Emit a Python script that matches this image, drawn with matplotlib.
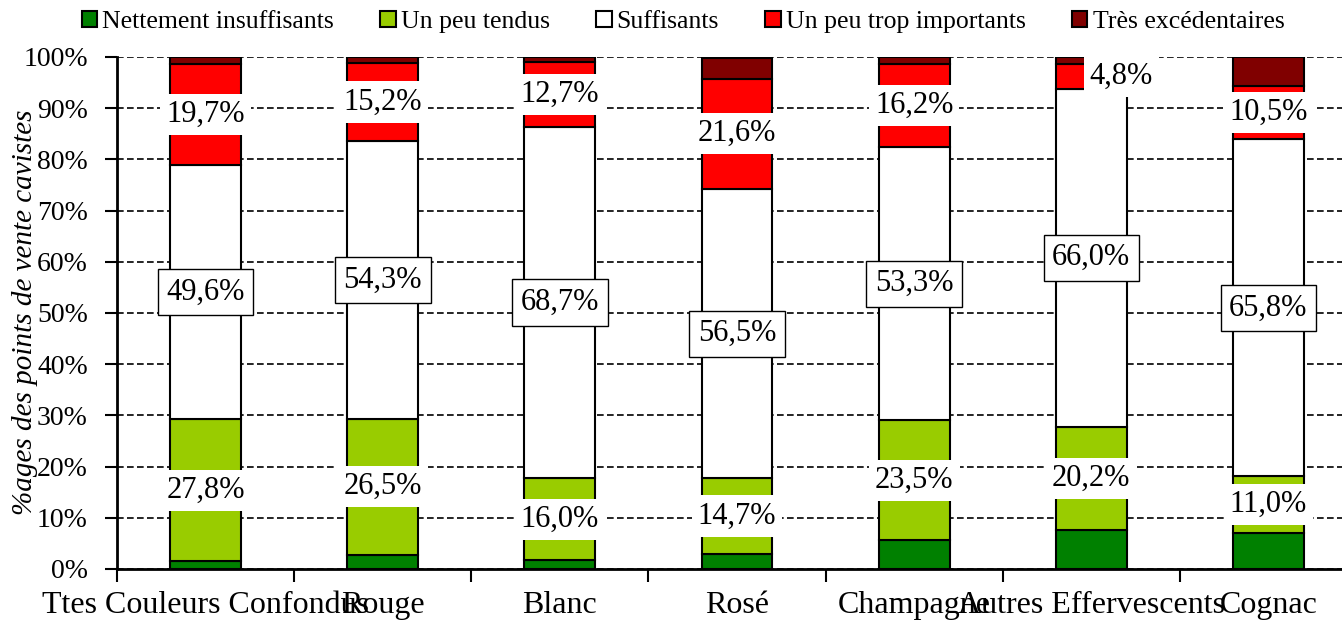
import numpy as np
import matplotlib
matplotlib.use("Agg")
import matplotlib.pyplot as plt
from matplotlib.patches import Patch

plt.rcParams["font.family"] = ["Liberation Serif", "DejaVu Serif"]

categories = ["Ttes Couleurs Confondus", "Rouge", "Blanc", "Rosé", "Champagne",
              "Autres Effervescents", "Cognac"]
series_names = ["Nettement insuffisants", "Un peu tendus", "Suffisants",
                "Un peu trop importants", "Très excédentaires"]
nettement = [1.5, 2.8, 1.7, 3.0, 5.6, 7.6, 7.1]
tendus = [27.8, 26.5, 16.0, 14.7, 23.5, 20.2, 11.0]
suffisants = [49.6, 54.3, 68.7, 56.5, 53.3, 66.0, 65.8]
trop = [19.7, 15.2, 12.7, 21.6, 16.2, 4.8, 10.5]
excedent = [1.4, 1.2, 0.9, 4.1, 1.4, 1.4, 5.6]

colors = ["#008000", "#99CC00", "#FFFFFF", "#FF0000", "#800000"]
series = [nettement, tendus, suffisants, trop, excedent]

fig = plt.figure(figsize=(13.42, 6.22), dpi=100)
ax = fig.add_axes([117/1342, 1 - 569/622, 1240/1342, 512/622])

x = np.arange(len(categories))
bottom = np.zeros(len(categories))
for vals, col in zip(series, colors):
    ax.bar(x, vals, 0.40, bottom=bottom, color=col, edgecolor="black",
           linewidth=1.5, zorder=2)
    bottom += np.array(vals)

# value labels (yellow-green, white, red segments)
base = np.array(nettement)
for i in range(len(categories)):
    y1 = base[i] + tendus[i] / 2
    ax.text(x[i], y1, f"{tendus[i]:.1f}%".replace(".", ","), ha="center", va="center",
            fontsize=22, zorder=4,
            bbox=dict(boxstyle="square,pad=0.2", fc="white", ec="none"))
    s0 = base[i] + tendus[i]
    y2 = s0 + suffisants[i] / 2
    ax.text(x[i], y2, f"{suffisants[i]:.1f}%".replace(".", ","), ha="center", va="center",
            fontsize=22, zorder=4,
            bbox=dict(boxstyle="square,pad=0.28", fc="white", ec="black", lw=1.0))
    r0 = s0 + suffisants[i]
    y3 = r0 + trop[i] / 2
    dx = 0.17 if trop[i] < 6 else 0.0   # small segment: label pushed aside
    ax.text(x[i] + dx, y3, f"{trop[i]:.1f}%".replace(".", ","), ha="center", va="center",
            fontsize=22, zorder=4,
            bbox=dict(boxstyle="square,pad=0.2", fc="white", ec="none"))

ax.set_xlim(-0.5, 6.5)
ax.set_ylim(0, 100)
ax.set_yticks(np.arange(0, 101, 10))
ax.set_yticklabels([f"{v}%" for v in range(0, 101, 10)])
ax.yaxis.grid(True, color="black", linestyle=(0, (4, 2)), linewidth=1.2, zorder=0)
ax.set_axisbelow(True)

ax.set_xticks(np.arange(-0.5, 7, 1))
ax.set_xticklabels([])
ax.set_xticks(x, minor=True)
ax.set_xticklabels(categories, minor=True)
ax.tick_params(axis="x", which="minor", length=0, pad=16, labelsize=23)
ax.tick_params(axis="x", which="major", length=9, width=1.5, direction="out")
ax.tick_params(axis="y", length=9, width=1.5, direction="out", pad=12, labelsize=20)

for side in ("top", "right"):
    ax.spines[side].set_visible(False)
for side in ("left", "bottom"):
    ax.spines[side].set_linewidth(2)

fig.text(25/1342, 1 - 312/622, "%ages des points de vente cavistes", rotation=90,
         ha="center", va="center", fontsize=21, style="italic")

handles = [Patch(facecolor=c, edgecolor="black", linewidth=1.5) for c in colors]
fig.legend(handles, series_names, loc="center", bbox_to_anchor=(683/1342, 1 - 22/622),
           ncol=5, frameon=False, fontsize=18.5, handlelength=0.6, handleheight=0.6,
           handletextpad=0.2, columnspacing=1.8, borderaxespad=0, borderpad=0)

fig.savefig("out.png", dpi=100)
